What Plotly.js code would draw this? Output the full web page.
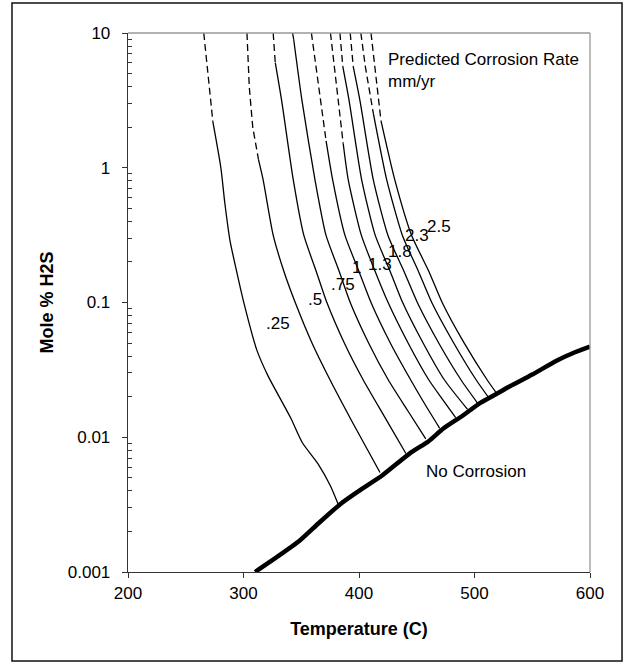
<!DOCTYPE html>
<html><head><meta charset="utf-8">
<script src="https://cdn.plot.ly/plotly-3.0.1.min.js"></script>
<style>html,body{margin:0;padding:0;background:#fff}#chart{width:624px;height:662px}</style>
</head><body><div id="chart"></div>
<script>
// "No Corrosion" boundary (Temperature C, Mole % H2S)
const boundaryT = [310, 330, 349, 365, 384, 400, 420, 444, 460, 473, 490, 505, 520, 531, 550, 571, 585, 600];
const boundaryH = [0.001, 0.00131, 0.00172, 0.0023, 0.0032, 0.0040, 0.0052, 0.0076, 0.0093, 0.0116, 0.0145, 0.0180, 0.0212, 0.0240, 0.0292, 0.037, 0.042, 0.047];

// iso-corrosion-rate curves (left to right)
const t1 = [265.6, 269.0, 273.5, 280.4, 283.8, 288.3, 293.8, 300.5, 311.4, 321.0, 340.7, 351.0, 364.8, 375.2, 382.0];
const h1 = [10, 5.0, 2.19, 1.0, 0.55, 0.288, 0.174, 0.098, 0.0447, 0.0288, 0.014, 0.0091, 0.0063, 0.00437, 0.00318];
const t2 = [303, 305, 308, 313, 317, 325.7, 335, 344.8, 359.3, 375, 395, 418.2];
const h2 = [10, 3.98, 2.0, 1.148, 0.813, 0.316, 0.17, 0.1, 0.0501, 0.0266, 0.0126, 0.00547];
const t3 = [325.7, 327.5, 333.0, 343.1, 352.2, 363, 372.2, 387.3, 403.7, 422.3, 440.6];
const h3 = [10, 6.03, 3.16, 0.813, 0.316, 0.17, 0.1, 0.0501, 0.0266, 0.0141, 0.00757];
const t4 = [342.5, 343.5, 350.6, 361.9, 371.4, 382.9, 392.4, 408.3, 425.4, 442.1, 457.8];
const h4 = [10, 8.91, 3.16, 0.813, 0.316, 0.17, 0.1, 0.0501, 0.0266, 0.0158, 0.00973];
const t5 = [358.8, 366.5, 371.5, 377.2, 387.8, 400.0, 410.4, 427.1, 444.8, 456.7, 469.9];
const h5 = [10, 3.16, 1.585, 0.813, 0.316, 0.17, 0.1, 0.0501, 0.0266, 0.0178, 0.01164];
const t6 = [375.3, 381.8, 386.3, 390.7, 402.0, 414.0, 425.2, 442.5, 460.5, 472.3, 483.7];
const h6 = [10, 3.16, 1.514, 0.813, 0.316, 0.17, 0.1, 0.0501, 0.0266, 0.0191, 0.01396];
const t7 = [383.5, 386, 391.4, 402.3, 414.0, 427.0, 437.8, 455.5, 474.0, 494];
const h7 = [10, 5.62, 3.16, 0.813, 0.316, 0.17, 0.1, 0.0501, 0.0266, 0.0161];
const t8 = [392.4, 395, 400.8, 412.4, 425.0, 439.0, 450.5, 469.0, 488.4, 502.6];
const h8 = [10, 5.62, 3.16, 0.813, 0.316, 0.17, 0.1, 0.0501, 0.0266, 0.01795];
const t9 = [401.6, 405.5, 412.5, 424, 437.5, 451.5, 463.0, 482.0, 501.5, 513];
const h9 = [10, 5.62, 2.51, 0.813, 0.316, 0.17, 0.1, 0.0501, 0.0266, 0.0193];
const t10 = [410.4, 413.5, 419, 431.0, 445.5, 460.5, 472.0, 491.0, 511.0, 519.2];
const h10 = [10, 5.62, 2.24, 0.813, 0.316, 0.17, 0.1, 0.0501, 0.0266, 0.0212];
// index of the last point of each curve's extrapolated (dashed) upper part
const dashedUpTo = [2, 3, 1, 1, 2, 2, 1, 1, 2, 2];

// curve labels (mm/yr)
const rateLabels = ['.25', '.5', '.75', '1', '1.3', '1.8', '2.3', '2.5'];
const rateLabelT = [330.1, 361.9, 386.4, 398.0, 418.2, 435.5, 450.5, 469.3];
const rateLabelH = [0.0702, 0.106, 0.137, 0.181, 0.193, 0.241, 0.312, 0.366];

const xTicks = [200, 300, 400, 500, 600];
const yTicks = [0.001, 0.01, 0.1, 1, 10];
const yTickText = ['0.001', '0.01', '0.1', '1', '10'];

const curvesT = [t1, t2, t3, t4, t5, t6, t7, t8, t9, t10];
const curvesH = [h1, h2, h3, h4, h5, h6, h7, h8, h9, h10];

const FONT = 'Arial, "Liberation Sans", sans-serif';
const traces = [];
curvesT.forEach((T, i) => {
  const H = curvesH[i];
  const k = dashedUpTo[i];
  traces.push({x: T.slice(0, k + 1), y: H.slice(0, k + 1), type: 'scatter', mode: 'lines',
    line: {color: '#000', width: 1.3, dash: '7px,4px'}, hoverinfo: 'skip'});
  traces.push({x: T.slice(k), y: H.slice(k), type: 'scatter', mode: 'lines',
    line: {color: '#000', width: 1.3, shape: 'spline', smoothing: 0.6}, hoverinfo: 'skip'});
});
traces.push({x: boundaryT, y: boundaryH, type: 'scatter', mode: 'lines',
  line: {color: '#000', width: 4.5, shape: 'spline', smoothing: 0.6}, hoverinfo: 'skip'});

const minorVals = [];
for (let d = -3; d < 1; d++) for (let m = 2; m <= 9; m++) minorVals.push(m * Math.pow(10, d));

const annotations = rateLabels.map((s, i) => ({
  x: rateLabelT[i], y: Math.log10(rateLabelH[i]), xref: 'x', yref: 'y', text: s,
  showarrow: false, font: {family: FONT, size: 17, color: '#000'}
}));
annotations.push({x: 423.4, y: Math.log10(5.3), xref: 'x', yref: 'y', xanchor: 'left', yanchor: 'middle',
  align: 'left', text: 'Predicted Corrosion Rate<br>mm/yr', showarrow: false,
  font: {family: FONT, size: 17, color: '#000'}});
annotations.push({x: 456.3, y: Math.log10(0.00554), xref: 'x', yref: 'y', xanchor: 'left', yanchor: 'middle',
  text: 'No Corrosion', showarrow: false, font: {family: FONT, size: 17, color: '#000'}});

const layout = {
  width: 624, height: 662,
  margin: {l: 128, r: 34, t: 33, b: 90, pad: 0},
  paper_bgcolor: '#fff', plot_bgcolor: '#fff',
  showlegend: false,
  font: {family: FONT, size: 17, color: '#000'},
  xaxis: {
    range: [200, 600], tickmode: 'array', tickvals: xTicks, ticks: 'outside', ticklen: 5,
    tickcolor: '#333', tickwidth: 1, showline: true, linecolor: '#333', linewidth: 1.3,
    showgrid: false, zeroline: false, fixedrange: true,
    title: {text: '<b>Temperature (C)</b>', font: {family: FONT, size: 18, color: '#000'}, standoff: 20}
  },
  yaxis: {
    type: 'log', range: [-3, 1], tickmode: 'array', tickvals: yTicks, ticktext: yTickText,
    ticks: 'outside', ticklen: 5, tickcolor: '#333', tickwidth: 1, ticklabelstandoff: 8,
    showline: true, linecolor: '#333', linewidth: 1.3, showgrid: false, zeroline: false, fixedrange: true,
    minor: {tickmode: 'array', tickvals: minorVals, ticks: 'inside', ticklen: 4, tickcolor: '#333', showgrid: false},
    title: {text: '<b>Mole % H2S</b>', font: {family: FONT, size: 18, color: '#000'}, standoff: 9}
  },
  shapes: [
    {type: 'line', xref: 'paper', yref: 'paper', x0: 0, x1: 1, y0: 1, y1: 1, line: {color: '#999', width: 1.3}},
    {type: 'line', xref: 'paper', yref: 'paper', x0: 1, x1: 1, y0: 0, y1: 1, line: {color: '#999', width: 1.3}},
    {type: 'rect', xref: 'paper', yref: 'paper', x0: -0.2511, x1: 1.0693, y0: -0.1651, y1: 1.0557,
      line: {color: '#111', width: 1.5}, fillcolor: 'rgba(0,0,0,0)'}
  ],
  annotations: annotations
};

Plotly.newPlot('chart', traces, layout, {displayModeBar: false, staticPlot: true});
</script>
</body></html>
